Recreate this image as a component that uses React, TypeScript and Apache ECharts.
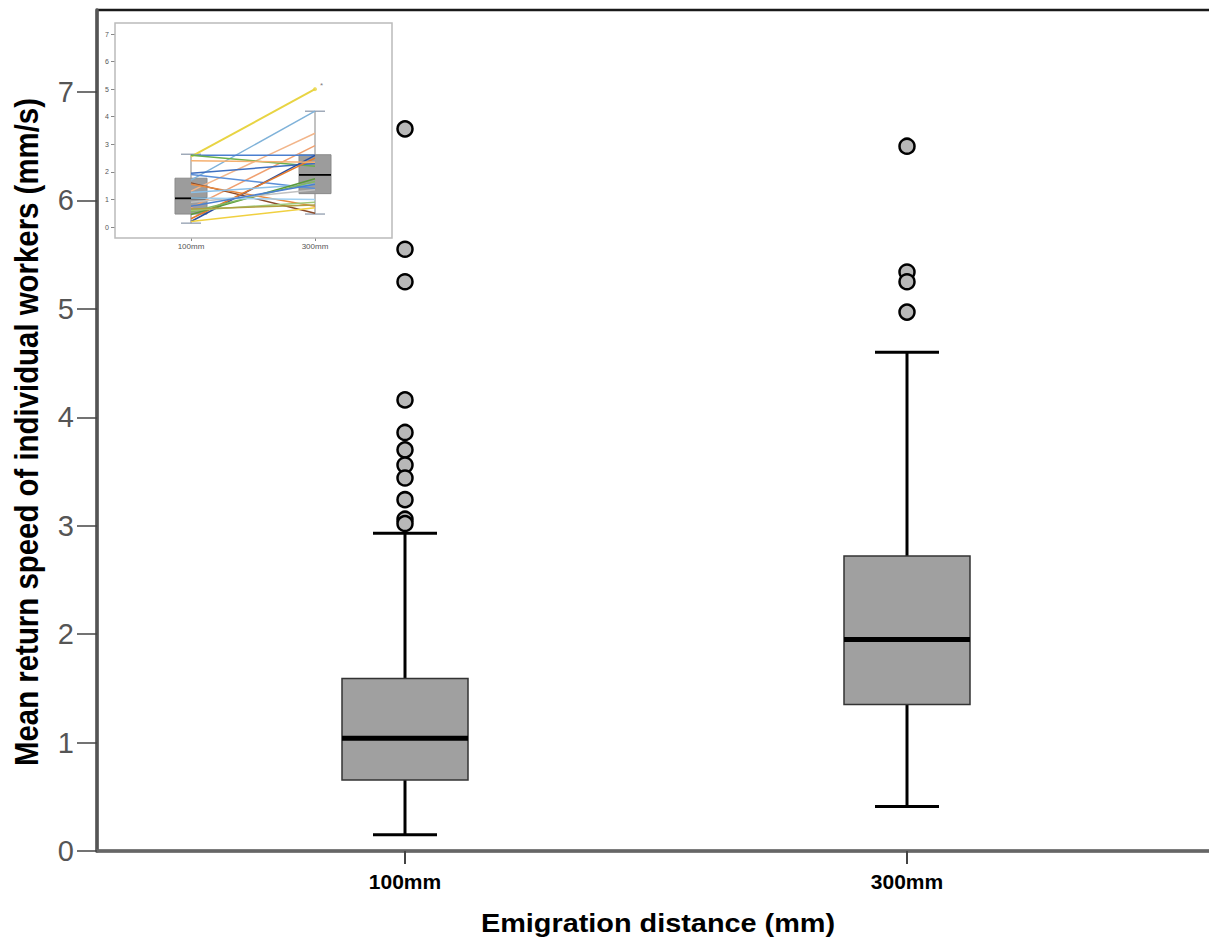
import React, { useEffect, useRef } from "react";
import * as echarts from "echarts";

// ---- main chart data ----
const categories = ["100mm", "300mm"];
const boxMin = [0.15, 0.41];
const boxQ1 = [0.655, 1.35];
const boxMedian = [1.04, 1.95];
const boxQ3 = [1.59, 2.72];
const boxMax = [2.93, 4.6];
const outliers100 = [6.66, 5.55, 5.25, 4.16, 3.86, 3.7, 3.56, 3.44, 3.24, 3.06, 3.02];
const outliers300 = [6.5, 5.34, 5.25, 4.97];
const yTicks = [0, 1, 2, 3, 4, 5, 6, 7];
const xTitle = "Emigration distance (mm)";
const yTitle = "Mean return speed of individual workers (mm/s)";

// ---- inset data ----
const insetMin = [0.14, 0.47];
const insetQ1 = [0.47, 1.21];
const insetMedian = [1.04, 1.89];
const insetQ3 = [1.77, 2.62];
const insetMax = [2.64, 4.2];
const insetOutlier300 = [5.0];
const pairStart = [2.55, 1.7, 1.3, 0.7, 2.6, 2.6, 1.95, 1.9, 1.6, 1.55, 0.2, 0.3, 1.25, 0.45, 0.55, 0.9, 0.2, 0.6, 1.05, 0.75, 2.4, 0.65];
const pairEnd = [5.0, 4.2, 3.4, 2.95, 2.6, 2.2, 2.3, 1.4, 0.5, 0.75, 2.6, 2.5, 1.55, 1.75, 1.65, 1.35, 0.7, 0.9, 1.0, 1.55, 2.35, 0.8];
const pairColors = [
  "#e8d443", "#7fb2d9", "#f2b58a", "#f0a070", "#4a7fd0", "#6ab04c", "#3f6fc0", "#5b8fd8",
  "#8b4a2a", "#e88a40", "#2a4fa0", "#e57a2a", "#8cc0e8", "#5a9a3a", "#80b860", "#c0c0c0",
  "#f0d040", "#a0c878", "#a0d0f0", "#4a80d0", "#f5b070", "#b0a040",
];

const SANS = '"Liberation Sans", Arial, sans-serif';

function makeBoxRender(halfW: number, capHalf: number, opts: any) {
  return (params: any, api: any) => {
    const x = api.value(0);
    const pMin = api.coord([x, api.value(1)]);
    const pQ1 = api.coord([x, api.value(2)]);
    const pMed = api.coord([x, api.value(3)]);
    const pQ3 = api.coord([x, api.value(4)]);
    const pMax = api.coord([x, api.value(5)]);
    const cx = pMed[0];
    const ws = { stroke: opts.whisker, lineWidth: opts.whiskerWidth };
    const cs = { stroke: opts.cap, lineWidth: opts.whiskerWidth };
    return {
      type: "group",
      children: [
        { type: "line", shape: { x1: cx, y1: pQ3[1], x2: cx, y2: pMax[1] }, style: ws },
        { type: "line", shape: { x1: cx, y1: pQ1[1], x2: cx, y2: pMin[1] }, style: ws },
        { type: "line", shape: { x1: cx - capHalf, y1: pMax[1], x2: cx + capHalf, y2: pMax[1] }, style: cs },
        { type: "line", shape: { x1: cx - capHalf, y1: pMin[1], x2: cx + capHalf, y2: pMin[1] }, style: cs },
        {
          type: "rect",
          shape: { x: cx - halfW, y: pQ3[1], width: halfW * 2, height: pQ1[1] - pQ3[1] },
          style: { fill: opts.fill, stroke: opts.border, lineWidth: opts.borderWidth },
        },
        {
          type: "line",
          shape: { x1: cx - halfW, y1: pMed[1], x2: cx + halfW, y2: pMed[1] },
          style: { stroke: "#000", lineWidth: opts.medianWidth },
        },
      ],
    };
  };
}

export default function App() {
  const ref = useRef<HTMLDivElement>(null);
  useEffect(() => {
    if (!ref.current) return;
    const chart = echarts.init(ref.current, undefined, { renderer: "svg" });

    const mainBoxData = categories.map((_, i) => [i, boxMin[i], boxQ1[i], boxMedian[i], boxQ3[i], boxMax[i]]);
    const insetBoxData = categories.map((_, i) => [i, insetMin[i], insetQ1[i], insetMedian[i], insetQ3[i], insetMax[i]]);
    const outlierData = [
      ...outliers100.map((v) => [0, v]),
      ...outliers300.map((v) => [1, v]),
    ];

    const pairSeries = pairStart.map((s, i) => ({
      type: "line",
      xAxisIndex: 1,
      yAxisIndex: 1,
      data: [[0, s], [1, pairEnd[i]]],
      symbol: "none",
      silent: true,
      z: 5,
      lineStyle: { color: pairColors[i], width: i === 0 ? 2 : 1.5 },
    }));

    const option: any = {
      animation: false,
      backgroundColor: "#fff",
      grid: [
        {
          left: 97, top: 10, width: 1114, bottom: 92,
          containLabel: false, outerBoundsMode: "none",
          show: true, borderColor: "#1a1a1a", borderWidth: 2.5, backgroundColor: "transparent",
        },
        {
          left: 115, top: 23, width: 277, height: 215,
          containLabel: false, outerBoundsMode: "none",
          show: true, borderColor: "#bbbbbb", borderWidth: 1.5, backgroundColor: "#ffffff", z: 3,
        },
      ],
      xAxis: [
        {
          type: "value", gridIndex: 0,
          min: (97 - 405) / 502, max: (1211 - 405) / 502,
          splitLine: { show: false },
          axisLine: { show: true, onZero: false, lineStyle: { color: "#666", width: 3.5 } },
          axisTick: { show: true, customValues: [0, 1], length: 13, lineStyle: { color: "#444", width: 2 } },
          axisLabel: {
            customValues: [0, 1],
            formatter: (v: number) => categories[Math.round(v)] ?? "",
            fontFamily: SANS, fontWeight: "bold", fontSize: 21, color: "#000", margin: 20,
          },
        },
        {
          type: "value", gridIndex: 1,
          min: (115 - 191) / 124, max: (392 - 191) / 124,
          splitLine: { show: false },
          axisLine: { show: false, onZero: false },
          axisTick: { show: true, customValues: [0, 1], length: 3, lineStyle: { color: "#888", width: 1 } },
          axisLabel: {
            customValues: [0, 1],
            formatter: (v: number) => categories[Math.round(v)] ?? "",
            fontFamily: SANS, fontSize: 8, color: "#555", margin: 4,
          },
        },
      ],
      yAxis: [
        {
          type: "value", gridIndex: 0,
          min: 0, max: (851 - 10) / ((851 - 92) / 7),
          splitLine: { show: false },
          axisLine: { show: true, onZero: false, lineStyle: { color: "#555", width: 3.5 } },
          axisTick: { show: true, customValues: yTicks, length: 20, lineStyle: { color: "#444", width: 1.5 } },
          axisLabel: {
            customValues: yTicks,
            fontFamily: SANS, fontSize: 29, color: "#555", margin: 23,
            padding: [8, 0, 0, 0],
          },
        },
        {
          type: "value", gridIndex: 1,
          min: -(238 - 227) / ((227 - 34) / 7), max: 7 + (34 - 23) / ((227 - 34) / 7),
          splitLine: { show: false },
          axisLine: { show: false, onZero: false },
          axisTick: { show: true, customValues: yTicks, length: 4, lineStyle: { color: "#888", width: 1 } },
          axisLabel: { customValues: yTicks, fontFamily: SANS, fontSize: 7, color: "#555", margin: 6 },
        },
      ],
      graphic: [
        {
          type: "text", x: 658, y: 923, scaleX: 1.11, silent: true,
          style: {
            text: xTitle, fontFamily: SANS, fontWeight: "bold", fontSize: 26, fill: "#000",
            align: "center", verticalAlign: "middle",
          },
        },
        {
          type: "text", x: 27, y: 432, rotation: Math.PI / 2, scaleY: 1.13, silent: true,
          style: {
            text: yTitle, fontFamily: SANS, fontWeight: "bold", fontSize: 29.4, fill: "#000",
            align: "center", verticalAlign: "middle",
          },
        },
      ],
      series: [
        {
          type: "custom", xAxisIndex: 0, yAxisIndex: 0, z: 2, silent: true,
          data: mainBoxData,
          renderItem: makeBoxRender(63, 32, {
            whisker: "#000", cap: "#000", whiskerWidth: 3, fill: "#a0a0a0",
            border: "#333", borderWidth: 1.5, medianWidth: 5,
          }),
        },
        {
          type: "scatter", xAxisIndex: 0, yAxisIndex: 0, z: 3, silent: true,
          data: outlierData, symbol: "circle", symbolSize: 15,
          itemStyle: { color: "#b8b8b8", borderColor: "#000", borderWidth: 2.5, opacity: 1 },
        },
        {
          type: "custom", xAxisIndex: 1, yAxisIndex: 1, z: 4, silent: true,
          data: insetBoxData,
          renderItem: makeBoxRender(16, 10, {
            whisker: "#999", cap: "#8895a8", whiskerWidth: 1.2, fill: "#9c9c9c",
            border: "#8a8a8a", borderWidth: 1, medianWidth: 1.8,
          }),
        },
        ...pairSeries,
        {
          type: "scatter", xAxisIndex: 1, yAxisIndex: 1, z: 6, silent: true,
          data: insetOutlier300.map((v) => [1, v]),
          symbolSize: 4,
          itemStyle: { color: "#e8d443" },
          label: { show: true, formatter: "*", position: "right", distance: 3, offset: [0, -4], fontSize: 8, color: "#555" },
        },
      ],
    };
    chart.setOption(option);
    return () => chart.dispose();
  }, []);

  return (
    <div
      ref={ref}
      style={{ position: "absolute", left: 0, top: 0, width: 1209, height: 943 }}
    />
  );
}
